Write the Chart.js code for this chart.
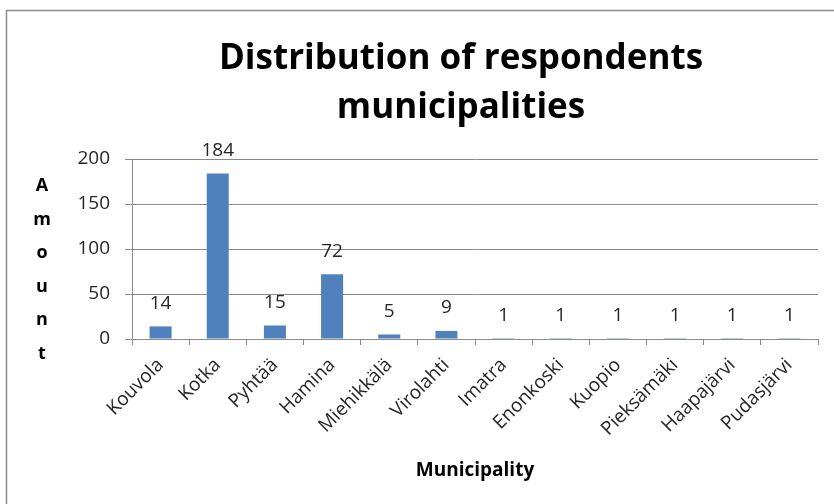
<!DOCTYPE html>
<html>
<head>
<meta charset="utf-8">
<script src="https://cdn.jsdelivr.net/npm/chart.js@4/dist/chart.umd.min.js"></script>
<style>
  html, body { margin: 0; padding: 0; background: #ffffff; }
  #wrap { width: 834px; height: 504px; position: relative; }
</style>
</head>
<body>
<div id="wrap"><canvas id="c" width="834" height="504"></canvas></div>
<script>
// Respondents per municipality
const municipalities = ['Kouvola', 'Kotka', 'Pyhtää', 'Hamina', 'Miehikkälä', 'Virolahti',
  'Imatra', 'Enonkoski', 'Kuopio', 'Pieksämäki', 'Haapajärvi', 'Pudasjärvi'];
const respondents = [14, 184, 15, 72, 5, 9, 1, 1, 1, 1, 1, 1];
const yTicks = [0, 50, 100, 150, 200];

const chartTitle = ['Distribution of respondents', 'municipalities'];
const xTitle = 'Municipality';
const yTitle = 'Amount';

const FONT = '"Open Sans", "Noto Sans", sans-serif';
const TEXT = '#262626';
const LINE = '#8a8a8a';

// Gray frame around the chart
const framePlugin = {
  id: 'frame',
  beforeDraw(chart) {
    const ctx = chart.ctx;
    ctx.save();
    ctx.fillStyle = '#ffffff';
    ctx.fillRect(0, 0, chart.width, chart.height);
    ctx.strokeStyle = '#8c8c8c';
    ctx.lineWidth = 1.5;
    ctx.strokeRect(6.5, 10.5, chart.width + 20, chart.height + 20);
    ctx.restore();
  }
};

// Centre the main title a little right of the canvas middle
const titleShiftPlugin = {
  id: 'titleShift',
  afterLayout(chart) {
    if (chart.titleBlock) chart.titleBlock.left = 104;
  }
};

// Vertical, letter-by-letter y-axis title
const stackedTitlePlugin = {
  id: 'stackedTitle',
  afterDraw(chart) {
    const ctx = chart.ctx;
    const area = chart.chartArea;
    ctx.save();
    ctx.font = 'bold 18px ' + FONT;
    ctx.fillStyle = '#000000';
    ctx.textAlign = 'center';
    ctx.textBaseline = 'alphabetic';
    const x = area.left - 90;
    const startY = area.top + 32;
    const step = 33.6;
    [...yTitle].forEach((ch, i) => ctx.fillText(ch, x, startY + i * step));
    ctx.restore();
  }
};

// Value labels above each bar
const valueLabelPlugin = {
  id: 'valueLabels',
  afterDatasetsDraw(chart) {
    const ctx = chart.ctx;
    const meta = chart.getDatasetMeta(0);
    ctx.save();
    ctx.font = '19px ' + FONT;
    ctx.fillStyle = TEXT;
    ctx.textAlign = 'center';
    ctx.textBaseline = 'middle';
    meta.data.forEach((bar, i) => {
      ctx.fillText(String(respondents[i]), bar.x, bar.y - 23);
    });
    ctx.restore();
  }
};

new Chart(document.getElementById('c'), {
  type: 'bar',
  data: {
    labels: municipalities,
    datasets: [{
      data: respondents,
      backgroundColor: '#4f81bd',
      borderWidth: 0,
      categoryPercentage: 1,
      barPercentage: 0.385
    }]
  },
  options: {
    responsive: false,
    animation: false,
    layout: { padding: { left: 0, right: 16, top: 0, bottom: 0 } },
    plugins: {
      legend: { display: false },
      tooltip: { enabled: false },
      title: {
        display: true,
        text: chartTitle,
        color: '#000000',
        font: { family: FONT, size: 35, weight: 'bold', lineHeight: 1.4 },
        padding: { top: 35, bottom: 26 }
      }
    },
    scales: {
      x: {
        grid: {
          display: true,
          drawOnChartArea: false,
          drawTicks: true,
          tickLength: 6,
          color: LINE,
          offset: true
        },
        border: { display: true, color: LINE, width: 1 },
        ticks: {
          color: TEXT,
          font: { family: FONT, size: 19 },
          maxRotation: 45,
          minRotation: 45,
          autoSkip: false,
          padding: 9
        },
        title: {
          display: true,
          text: xTitle,
          color: '#000000',
          font: { family: FONT, size: 19, weight: 'bold' },
          padding: { top: 0, bottom: 22 }
        },
        afterFit(scale) { scale.height = 165; }
      },
      y: {
        min: 0,
        max: 200,
        afterBuildTicks(scale) { scale.ticks = yTicks.map(v => ({ value: v })); },
        grid: {
          color: LINE,
          lineWidth: 1,
          drawTicks: true,
          tickLength: 7
        },
        border: { display: true, color: LINE, width: 1 },
        ticks: {
          color: TEXT,
          font: { family: FONT, size: 19 },
          padding: 15
        },
        afterFit(scale) { scale.width = 132; }
      }
    }
  },
  plugins: [framePlugin, titleShiftPlugin, stackedTitlePlugin, valueLabelPlugin]
});
</script>
</body>
</html>
